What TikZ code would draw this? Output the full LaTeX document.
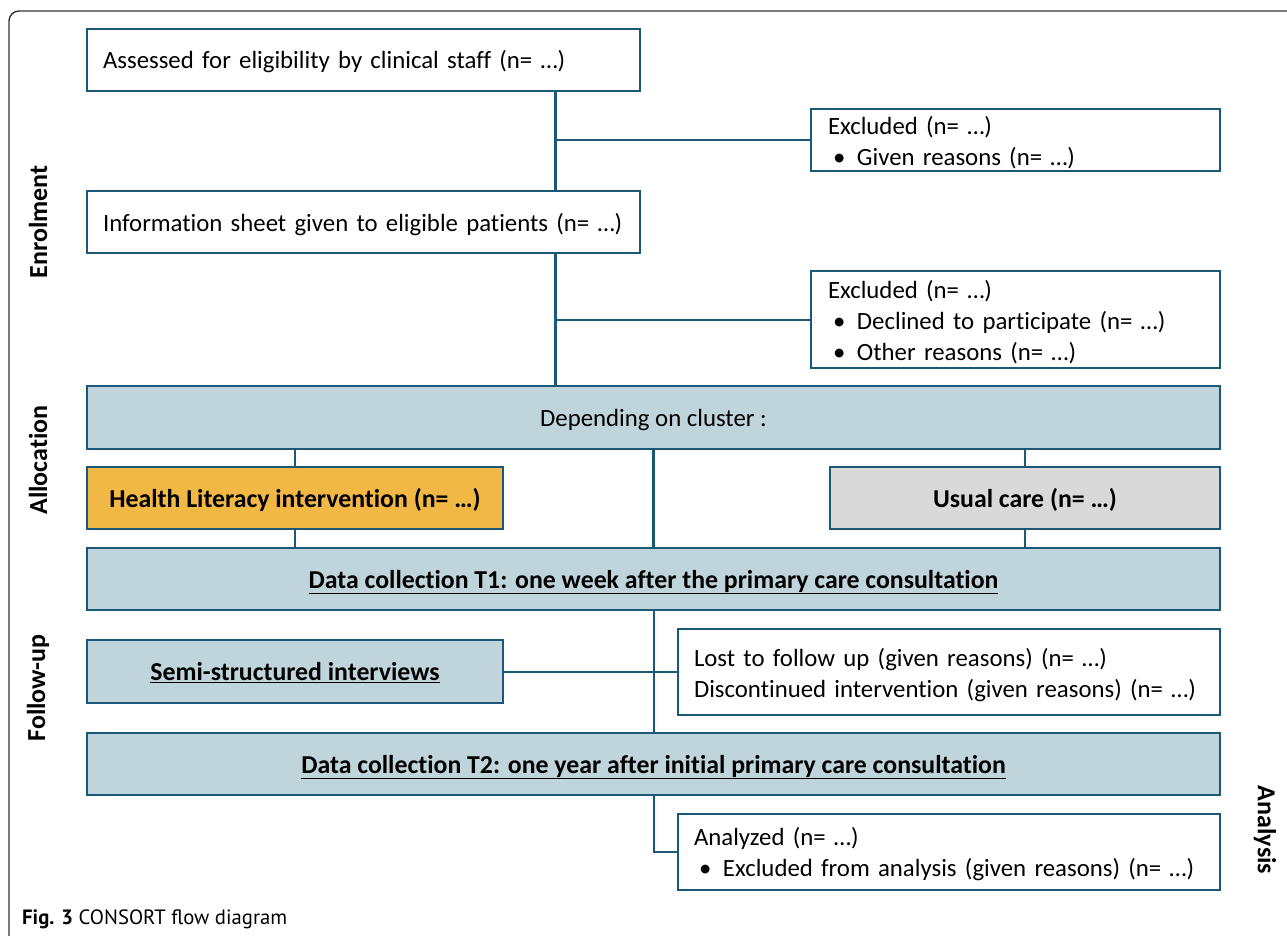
\documentclass[tikz,border=0pt]{standalone}
\usepackage{fontspec}
\setmainfont{Carlito}[Ligatures=NoCommon]
\newfontfamily\capfont{PT Sans}
\definecolor{bord}{HTML}{1B5878}
\definecolor{bluefill}{HTML}{BFD4DB}
\definecolor{orangefill}{HTML}{F2B845}
\definecolor{grayfill}{HTML}{D9D9D9}
\definecolor{framecol}{HTML}{333333}
\tikzset{
  box/.style={draw=bord, line width=2pt, fill=white, anchor=north west, outer sep=0pt,
    inner sep=0pt, font=\fontsize{24.8}{31}\selectfont, text height=24pt, text depth=6pt},
  lbox/.style={box, align=left},
  bbox/.style={box, fill=bluefill, align=center},
  boldtxt/.style={font=\fontsize{25.8}{31}\selectfont\bfseries},
  conn/.style={draw=bord, line width=2pt},
  mainconn/.style={draw=bord, line width=3pt},
  side/.style={font=\fontsize{26}{30}\selectfont\bfseries}
}
\newcommand{\bul}{\hspace*{5pt}\makebox[24pt][l]{\textbullet}}
\begin{document}
\begin{tikzpicture}[x=1pt,y=-1pt]
\useasboundingbox (0,0) rectangle (1287,936);
% outer frame
\draw[framecol, line width=1.4pt, rounded corners=10pt] (9,960) -- (9,11) -- (1310,11);

% enrolment
\node[lbox, minimum width=553pt, minimum height=62pt, text width=521pt] (ass) at (87,29)
  {Assessed for eligibility by clinical staff (n= …)};
\node[lbox, minimum width=409pt, minimum height=62pt, text width=375pt,
      text height=18pt, text depth=28pt] (exa) at (811,109)
  {Excluded (n= …)\\\bul Given reasons (n= …)};
\node[lbox, minimum width=553pt, minimum height=62pt, text width=521pt] (inf) at (87,191)
  {Information sheet given to eligible patients (n= …)};
\node[lbox, minimum width=409pt, minimum height=97pt, text width=375pt,
      text height=18pt, text depth=61pt] (exb) at (811,271)
  {Excluded (n= …)\\\bul Declined to participate (n= …)\\\bul Other reasons (n= …)};

% allocation
\node[bbox, minimum width=1133pt, minimum height=63pt] (dep) at (87,386)
  {Depending on cluster :};
\node[box, boldtxt, fill=orangefill, minimum width=416pt, minimum height=62pt] (hl) at (87,467)
  {Health Literacy intervention (n= …)};
\node[box, boldtxt, fill=grayfill, minimum width=390pt, minimum height=62pt] (uc) at (830,467)
  {Usual care (n= …)};

% follow-up
\node[bbox, boldtxt, minimum width=1133pt, minimum height=62pt] (t1) at (87,548)
  {\underline{Data collection T1: one week after the primary care consultation}};
\node[bbox, boldtxt, minimum width=416pt, minimum height=63pt] (semi) at (87,640)
  {\underline{Semi-structured interviews}};
\node[lbox, minimum width=542pt, minimum height=86pt, text width=510pt,
      text height=18pt, text depth=30pt] (lost) at (678,629)
  {Lost to follow up (given reasons) (n= …)\\Discontinued intervention (given reasons) (n= …)};
\node[bbox, boldtxt, minimum width=1133pt, minimum height=62pt] (t2) at (87,733)
  {\underline{Data collection T2: one year after initial primary care consultation}};

% analysis
\node[lbox, minimum width=542pt, minimum height=76pt, text width=510pt,
      text height=18pt, text depth=32pt] (ana) at (678,814)
  {Analyzed (n= …)\\\bul Excluded from analysis (given reasons) (n= …)};

% connectors
\coordinate (sp) at (555,0);
\draw[mainconn] (ass.south -| sp) -- (inf.north -| sp);
\draw[mainconn] (inf.south -| sp) -- (dep.north -| sp);
\draw[conn] (exa.west) -- (exa.west -| sp);
\draw[conn] (exb.west) -- (exb.west -| sp);
\draw[conn] (dep.south -| hl.north) -- (hl.north);
\draw[conn] (dep.south -| uc.north) -- (uc.north);
\draw[conn] (hl.south) -- (hl.south |- t1.north);
\draw[conn] (uc.south) -- (uc.south |- t1.north);
\draw[mainconn] (dep.south) -- (t1.north);
\draw[conn] (t1.south) -- (t2.north);
\draw[conn] (semi.east) -- (semi.east -| lost.west);
\draw[conn] (t2.south) |- (ana.west);

% side labels
\node[side, rotate=90] (lenr) at (38,222) {Enrolment};
\node[side, rotate=90] (lall) at (38,460) {Allocation};
\node[side, rotate=90] (lfol) at (38,688) {Follow-up};
\node[side, rotate=-90] (lana) at (1265,830) {Analysis};

% caption
\node[anchor=base west, inner sep=0pt, font=\capfont\fontsize{20.7}{22}\selectfont] (cap) at (22,924)
  {\textbf{Fig. 3} CONSORT flow diagram};
\end{tikzpicture}
\end{document}
